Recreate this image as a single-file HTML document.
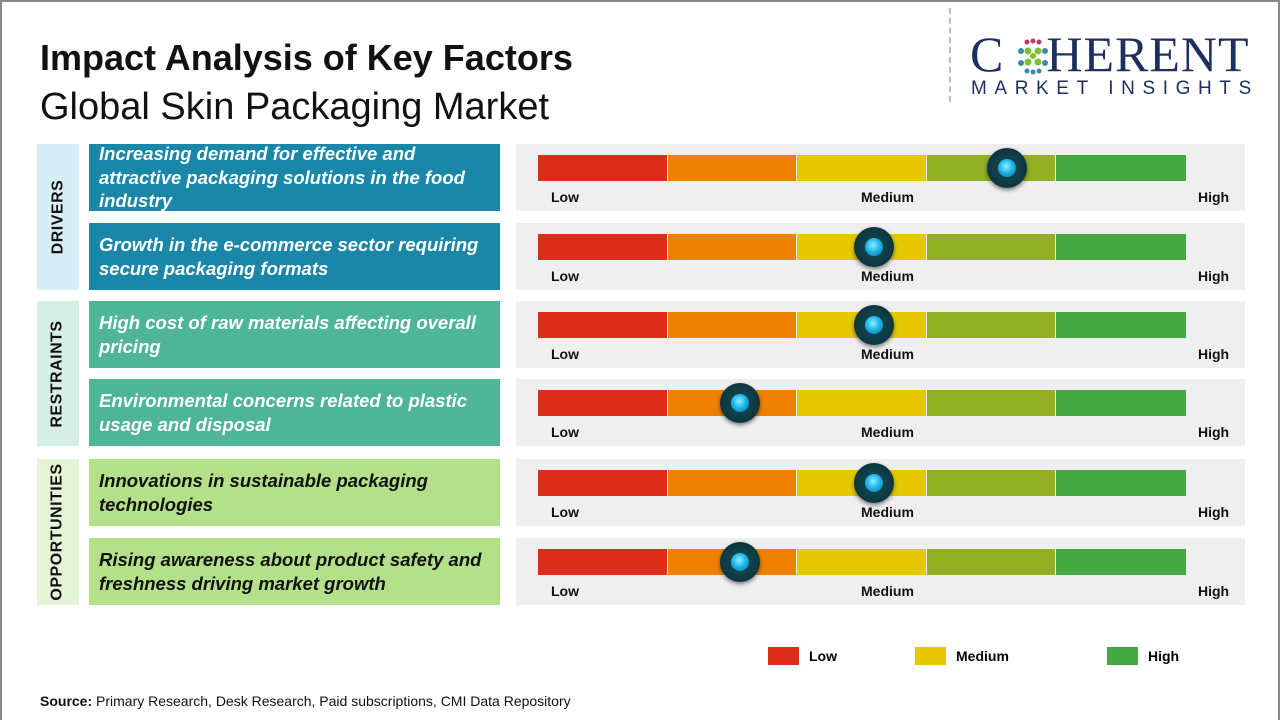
<!DOCTYPE html>
<html><head><meta charset="utf-8"><style>
*{margin:0;padding:0;box-sizing:border-box}
body{width:1280px;height:720px;background:#fff;font-family:"Liberation Sans",sans-serif;position:relative;overflow:hidden}
.frame{position:absolute;left:0;top:0;width:1280px;height:720px;border:2px solid #888;border-bottom:none}
.a{position:absolute}
.cat{position:absolute;left:37px;width:42px;display:flex;align-items:center;justify-content:center}
.cat span{transform:rotate(-90deg);white-space:nowrap;font-weight:bold;font-size:16px;color:#111;letter-spacing:0.5px}
.tb{position:absolute;left:89px;width:411px;height:67px;display:flex;align-items:center;padding-left:10px;font-style:italic;font-weight:bold;font-size:18.5px;line-height:24px;color:#fff;white-space:nowrap}
.panel{position:absolute;left:516px;width:729px;height:67px;background:#efefef}
.seg{position:absolute;top:11px;height:26px}
.lbl{position:absolute;top:45px;font-size:14px;font-weight:bold;color:#111}
.dot{position:absolute;top:4px;width:40px;height:40px;margin-left:-20px;border-radius:50%;background:radial-gradient(circle at 50% 50%,#1a4a55 0,#0d3a44 60%,#062228 100%);box-shadow:0 2px 4px rgba(0,0,0,.5)}
.dot:after{content:"";position:absolute;left:11px;top:11px;width:18px;height:18px;border-radius:50%;background:radial-gradient(circle at 45% 40%,#8ff0ff 0,#1fb6e8 45%,#0a6fa0 100%)}
</style></head><body>
<div class="frame"></div>
<div class="a" style="left:40px;top:37px;font-size:36px;font-weight:bold;color:#111">Impact Analysis of Key Factors</div>
<div class="a" style="left:40px;top:86px;font-size:38px;color:#111">Global Skin Packaging Market</div>
<div class="a" style="left:949px;top:8px;height:94px;border-left:2px dashed #bbb"></div>
<div class="a" style="left:970px;top:28px;font-family:'Liberation Serif',serif;font-size:50px;line-height:52px;color:#1d2f5e;letter-spacing:1px">C<span style="display:inline-block;width:42px"></span>HERENT</div>
<svg class="a" style="left:1013px;top:37px" width="40" height="40" viewBox="0 0 40 40">
<g fill="#3a8aa8"><circle cx="8" cy="14" r="3"/><circle cx="8" cy="26" r="3"/><circle cx="32" cy="14" r="3"/><circle cx="32" cy="26" r="3"/></g>
<g fill="#c2336a"><circle cx="14" cy="5" r="2.5"/><circle cx="20" cy="4" r="2.5"/><circle cx="26" cy="5" r="2.5"/></g>
<g fill="#7dbf3a"><circle cx="15" cy="14" r="3.5"/><circle cx="25" cy="14" r="3.5"/><circle cx="15" cy="25" r="3.5"/><circle cx="25" cy="25" r="3.5"/><circle cx="20" cy="19" r="3"/></g>
<g fill="#3a8aa8"><circle cx="14" cy="34" r="2.5"/><circle cx="20" cy="35" r="2.5"/><circle cx="26" cy="34" r="2.5"/></g>
</svg>
<div class="a" style="left:971px;top:78px;font-size:19px;letter-spacing:7.6px;color:#1d2f5e">MARKET INSIGHTS</div>

<div class="cat" style="top:144px;height:146px;background:#d7eef8"><span>DRIVERS</span></div>
<div class="cat" style="top:301px;height:145px;background:#d6efe6"><span>RESTRAINTS</span></div>
<div class="cat" style="top:459px;height:146px;background:#e4f4d6"><span>OPPORTUNITIES</span></div>

<div class="tb" style="top:144px;background:#1a87a8;line-height:23.5px">Increasing demand for effective and<br>attractive packaging solutions in the food<br>industry</div>
<div class="tb" style="top:223px;background:#1a87a8">Growth in the e-commerce sector requiring<br>secure packaging formats</div>
<div class="tb" style="top:301px;background:#4fb597">High cost of raw materials affecting overall<br>pricing</div>
<div class="tb" style="top:379px;background:#4fb597">Environmental concerns related to plastic<br>usage and disposal</div>
<div class="tb" style="top:459px;background:#b5e08a;color:#111">Innovations in sustainable packaging<br>technologies</div>
<div class="tb" style="top:538px;background:#b5e08a;color:#111">Rising awareness about product safety and<br>freshness driving market growth</div>

<div id="panels"></div>
<script>
var tops=[144,223,301,379,459,538],pos=[1007,874,874,740,874,740];
var cols=['#dd2c1a','#ee8100','#e5c800','#93b024','#45a843'];
var h='';
for(var i=0;i<6;i++){h+='<div class="panel" style="top:'+tops[i]+'px">';
for(var j=0;j<5;j++){h+='<div class="seg" style="left:'+(22+j*129.6)+'px;width:'+(j<4?128.6:129.6)+'px;background:'+cols[j]+'"></div>';}
h+='<div class="lbl" style="left:35px">Low</div><div class="lbl" style="left:345px">Medium</div><div class="lbl" style="left:682px">High</div>';
h+='<div class="dot" style="left:'+(pos[i]-516)+'px"></div></div>';}
document.getElementById('panels').innerHTML=h;
</script>

<div class="a" style="left:768px;top:647px;width:31px;height:18px;background:#dd2c1a"></div>
<div class="a" style="left:809px;top:648px;font-size:14px;font-weight:bold">Low</div>
<div class="a" style="left:915px;top:647px;width:31px;height:18px;background:#e5c800"></div>
<div class="a" style="left:956px;top:648px;font-size:14px;font-weight:bold">Medium</div>
<div class="a" style="left:1107px;top:647px;width:31px;height:18px;background:#45a843"></div>
<div class="a" style="left:1148px;top:648px;font-size:14px;font-weight:bold">High</div>

<div class="a" style="left:40px;top:693px;font-size:14px;color:#111"><b>Source:</b> Primary Research, Desk Research, Paid subscriptions, CMI Data Repository</div>
</body></html>
